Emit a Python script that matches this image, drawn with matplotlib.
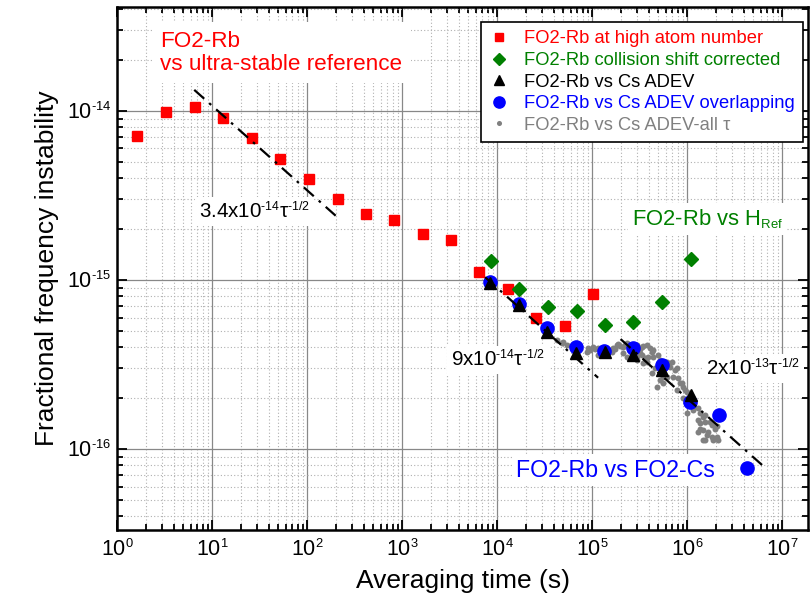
import numpy as np
import matplotlib
matplotlib.use("Agg")
import matplotlib.pyplot as plt
from matplotlib.ticker import LogLocator, NullFormatter, FixedLocator
try:
    import matplotlib._mathtext as _mt
    _mt.SHRINK_FACTOR = 0.6
except Exception:
    pass

plt.rcParams['font.family'] = ['Liberation Sans', 'DejaVu Sans']
plt.rcParams['mathtext.fontset'] = 'custom'
plt.rcParams['mathtext.rm'] = 'Liberation Sans'
plt.rcParams['mathtext.it'] = 'Liberation Sans'
plt.rcParams['mathtext.sf'] = 'Liberation Sans'
plt.rcParams['mathtext.bf'] = 'Liberation Sans:bold'

# ---------------- data ----------------
red_tau = [1.64, 3.28, 6.56, 13.1, 26.2, 52.4, 105, 210, 415, 830, 1650, 3300,
           6520, 13000, 25900, 52300, 101600]
red_adev = [7.1e-15, 9.9e-15, 1.06e-14, 9.05e-15, 6.9e-15, 5.18e-15, 3.98e-15,
            3.02e-15, 2.47e-15, 2.27e-15, 1.88e-15, 1.72e-15,
            1.11e-15, 8.9e-16, 5.93e-16, 5.37e-16, 8.3e-16]

green_tau = [8590, 17100, 34100, 69000, 137000, 272000, 546000, 1.09e6]
green_adev = [1.29e-15, 8.85e-16, 6.97e-16, 6.6e-16, 5.42e-16, 5.65e-16, 7.42e-16, 1.33e-15]

black_tau = [8440, 16900, 33400, 67300, 137000, 272000, 546000, 1.09e6]
black_adev = [9.66e-16, 7.1e-16, 4.96e-16, 3.72e-16, 3.77e-16, 3.6e-16, 2.93e-16, 2.09e-16]

blue_tau = [8440, 16900, 33800, 67500, 135000, 270000, 540000, 1.08e6, 2.17e6, 4.31e6]
blue_adev = [9.7e-16, 7.2e-16, 5.18e-16, 4.04e-16, 3.8e-16, 3.94e-16, 3.14e-16,
             1.9e-16, 1.58e-16, 7.76e-17]

gray_tau = [4.25e4, 4.99e4, 5.42e4, 4.80e4, 8.79e4, 9.14e4, 9.53e4, 1.03e5, 1.08e5, 1.16e5,
            1.16e5, 1.61e5, 1.67e5, 1.75e5, 1.82e5, 1.89e5, 1.97e5, 2.13e5, 2.13e5, 2.22e5,
            2.32e5, 2.32e5, 2.96e5, 2.96e5, 2.96e5, 3.20e5, 3.20e5, 3.33e5, 3.33e5, 3.47e5,
            3.47e5, 3.61e5, 3.77e5, 3.77e5, 3.92e5, 4.08e5, 4.25e5, 4.25e5, 4.42e5, 4.42e5,
            4.60e5, 4.80e5, 4.99e5, 5.20e5, 5.20e5, 5.20e5, 5.64e5, 5.64e5, 6.11e5, 6.11e5,
            6.35e5, 6.62e5, 6.90e5, 7.18e5, 7.48e5, 7.80e5, 7.80e5, 8.11e5, 8.43e5, 8.79e5,
            9.14e5, 9.14e5, 9.53e5, 9.93e5, 9.93e5, 1.03e6, 1.12e6, 1.16e6, 1.16e6, 1.32e6,
            1.32e6, 1.32e6, 1.37e6, 1.37e6, 1.37e6, 1.49e6, 1.49e6, 1.49e6, 1.55e6, 1.55e6,
            1.55e6, 1.61e6, 1.67e6, 1.75e6, 1.82e6, 1.82e6, 1.89e6, 1.97e6, 2.06e6, 2.06e6,
            2.13e6]
gray_adev = [4.42e-16, 4.32e-16, 4.12e-16, 4.26e-16, 3.77e-16, 3.94e-16, 3.85e-16, 4.03e-16, 3.89e-16, 3.60e-16,
             3.94e-16, 3.77e-16, 3.94e-16, 3.89e-16, 4.12e-16, 4.18e-16, 4.06e-16, 4.03e-16, 3.68e-16, 4.12e-16,
             4.22e-16, 3.52e-16, 4.12e-16, 3.52e-16, 3.37e-16, 3.89e-16, 3.68e-16, 4.03e-16, 3.60e-16, 4.06e-16,
             3.21e-16, 3.44e-16, 4.12e-16, 3.29e-16, 3.52e-16, 3.94e-16, 3.77e-16, 2.81e-16, 3.52e-16, 3.85e-16,
             3.01e-16, 2.34e-16, 3.60e-16, 3.37e-16, 2.81e-16, 2.56e-16, 2.68e-16, 2.45e-16, 3.29e-16, 2.68e-16,
             3.14e-16, 3.07e-16, 3.29e-16, 2.68e-16, 2.93e-16, 3.01e-16, 2.23e-16, 2.62e-16, 2.45e-16, 2.45e-16,
             2.34e-16, 2.00e-16, 2.23e-16, 2.18e-16, 1.63e-16, 1.86e-16, 2.04e-16, 1.78e-16, 1.70e-16, 1.74e-16,
             1.49e-16, 1.26e-16, 1.63e-16, 1.42e-16, 1.32e-16, 1.55e-16, 1.29e-16, 1.13e-16, 1.59e-16, 1.45e-16,
             1.13e-16, 1.21e-16, 1.26e-16, 1.45e-16, 1.39e-16, 1.18e-16, 1.13e-16, 1.32e-16, 1.36e-16, 1.18e-16,
             1.13e-16]

# guide lines  sigma = coef * tau^-1/2
fit_coefs = [3.4e-14, 9e-14, 2e-13]
fit_ranges = [(6.5, 220), (7500, 1.16e5), (2.0e5, 6.3e6)]

x_ticks = [1e0, 1e1, 1e2, 1e3, 1e4, 1e5, 1e6, 1e7]
y_ticks = [1e-16, 1e-15, 1e-14]

legend_labels = ["FO2-Rb at high atom number", "FO2-Rb collision shift corrected",
                 "FO2-Rb vs Cs ADEV", "FO2-Rb vs Cs ADEV overlapping",
                 "FO2-Rb vs Cs ADEV-all \u03c4"]

RED = '#ff0000'
GREEN = '#008000'
BLUE = '#0000ff'
GRAY = '#808080'
HY = '\u2010'  # hyphen used in exponents

fig = plt.figure(figsize=(8.12, 5.97), dpi=100)
ax = fig.add_axes([0.1441, 0.1122, 0.851, 0.876])
ax.set_xscale('log')
ax.set_yscale('log')
ax.set_xlim(1.0, 1.88e7)
ax.set_ylim(3.32e-17, 4.12e-14)

# grid
ax.grid(True, which='major', color='#888888', linestyle='-', linewidth=0.9, zorder=0)
ax.grid(True, which='minor', color='#b0b0b0', linestyle=(0, (1, 2)), linewidth=0.8, zorder=0)
ax.set_axisbelow(True)

h_red, = ax.plot(red_tau, red_adev, 's', color=RED, ms=7.5, mec=RED, ls='none', zorder=3)
h_green, = ax.plot(green_tau, green_adev, 'D', color=GREEN, ms=7.2, mec=GREEN, ls='none', zorder=3)
h_gray, = ax.plot(gray_tau, gray_adev, 'o', color=GRAY, ms=4.3, mec=GRAY, mew=0, ls='none', zorder=3)
h_blue, = ax.plot(blue_tau, blue_adev, 'o', color=BLUE, ms=9.5, mec=BLUE, ls='none', zorder=4)
h_black, = ax.plot(black_tau, black_adev, '^', color='black', ms=9, mec='black', ls='none', zorder=5)

for c, (t0, t1) in zip(fit_coefs, fit_ranges):
    t = np.logspace(np.log10(t0), np.log10(t1), 50)
    ax.plot(t, c / np.sqrt(t), color='black', lw=1.6, ls=(0, (6, 3, 1.2, 3)), zorder=6)

# ticks
ax.xaxis.set_major_locator(FixedLocator(x_ticks))
ax.yaxis.set_major_locator(FixedLocator(y_ticks))
ax.xaxis.set_minor_locator(LogLocator(base=10, subs=np.arange(2, 10), numticks=20))
ax.yaxis.set_minor_locator(LogLocator(base=10, subs=np.arange(2, 10), numticks=20))
ax.xaxis.set_minor_formatter(NullFormatter())
ax.yaxis.set_minor_formatter(NullFormatter())
ax.set_xticklabels([r'$\mathregular{10^{%d}}$' % int(np.log10(v)) for v in x_ticks])
ax.set_yticklabels([r'$\mathregular{10^{%s%d}}$' % (HY, abs(int(np.log10(v)))) for v in y_ticks])
ax.tick_params(which='both', direction='in', top=True, right=True, width=1.3, labelsize=15.5)
ax.tick_params(which='major', length=7)
ax.tick_params(which='minor', length=4)
ax.tick_params(axis='x', pad=7)
ax.tick_params(axis='y', pad=4)
for s in ax.spines.values():
    s.set_linewidth(1.8)

ax.set_xlabel('Averaging time (s)', fontsize=19, labelpad=6)
ax.set_ylabel('Fractional frequency instability', fontsize=19, labelpad=6)

def formula(coef, exp):
    return r'%sx10$^{%s%d}$τ$^{%s1/2}$' % (coef, HY, exp, HY)

wb = dict(facecolor='white', edgecolor='none', pad=3)
ax.text(0.0625, 0.955, 'FO2-Rb\nvs ultra-stable reference', transform=ax.transAxes,
        color=RED, fontsize=16.2, va='top', ha='left', linespacing=1.15,
        bbox=dict(facecolor='white', edgecolor='none', pad=6), zorder=7)
ax.text(0.1187, 0.5966, formula('3.4', 14), transform=ax.transAxes,
        fontsize=14.8, ha='left', va='baseline', bbox=wb, zorder=7)
ax.text(0.745, 0.583, r'FO2-Rb vs H$_{\mathregular{Ref}}$', transform=ax.transAxes,
        color=GREEN, fontsize=15.8, ha='left', va='baseline', bbox=wb, zorder=7)
ax.text(0.484, 0.313, formula('9', 14), transform=ax.transAxes,
        fontsize=14.8, ha='left', va='baseline', bbox=wb, zorder=7)
ax.text(0.853, 0.296, formula('2', 13), transform=ax.transAxes,
        fontsize=14.8, ha='left', va='baseline', bbox=wb, zorder=7)
ax.text(0.578, 0.102, 'FO2-Rb vs FO2-Cs', transform=ax.transAxes,
        color=BLUE, fontsize=16.7, ha='left', va='baseline', bbox=wb, zorder=7)

leg = ax.legend([h_red, h_green, h_black, h_blue, h_gray], legend_labels,
                loc='upper right', bbox_to_anchor=(0.993, 0.971), borderaxespad=0,
                fontsize=13.2, handlelength=1.0, handletextpad=0.9, labelspacing=0.25,
                borderpad=0.45, frameon=True, fancybox=False, framealpha=1,
                edgecolor='black', markerscale=0.85)
leg.get_frame().set_linewidth(1.2)
leg.set_zorder(8)
for txt, col in zip(leg.get_texts(), [RED, GREEN, 'black', BLUE, GRAY]):
    txt.set_color(col)

fig.savefig('out.png', dpi=100)
